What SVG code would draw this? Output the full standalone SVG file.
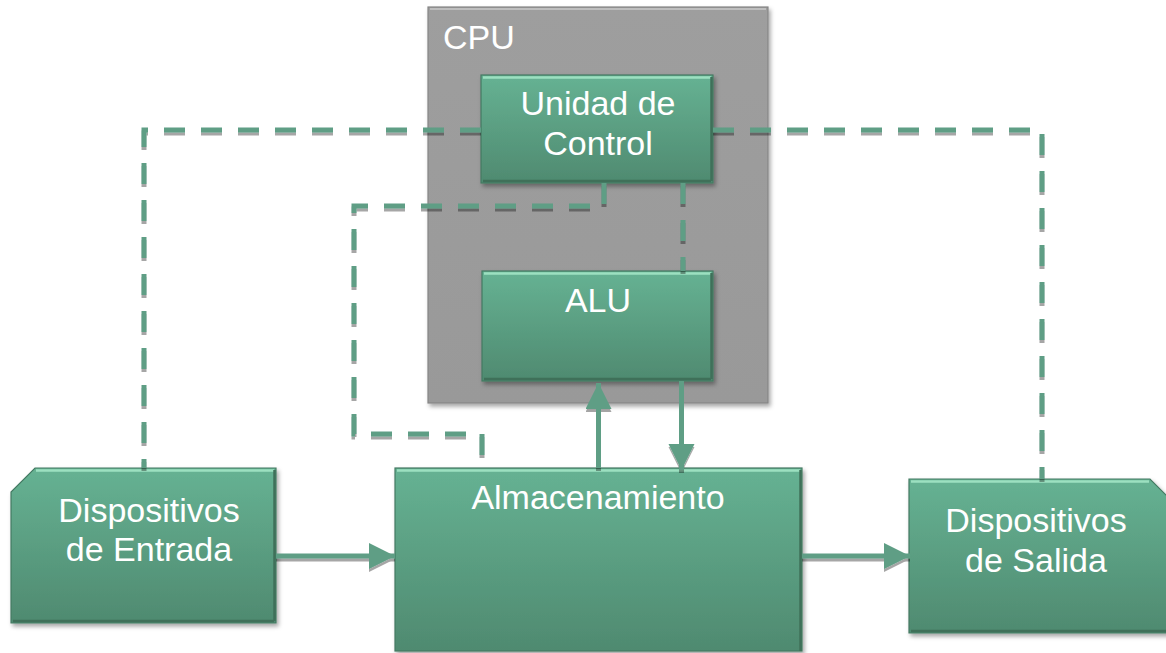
<svg xmlns="http://www.w3.org/2000/svg" width="1166" height="653" viewBox="0 0 1166 653">
  <defs>
    <linearGradient id="gNode" x1="0" y1="0" x2="0" y2="1">
      <stop offset="0" stop-color="#66B293"/>
      <stop offset="1" stop-color="#4F8A70"/>
    </linearGradient>
    <linearGradient id="gCpu" x1="0" y1="0" x2="0" y2="1">
      <stop offset="0" stop-color="#9E9E9E"/>
      <stop offset="1" stop-color="#999999"/>
    </linearGradient>
    <filter id="boxShadow" x="-10%" y="-10%" width="125%" height="125%">
      <feDropShadow dx="2" dy="3" stdDeviation="2" flood-color="#000" flood-opacity="0.35"/>
    </filter>
    <filter id="lineShadow" x="-5%" y="-5%" width="110%" height="110%">
      <feDropShadow dx="0" dy="3" stdDeviation="0.4" flood-color="#000" flood-opacity="0.35"/>
    </filter>
    <marker id="arrow" markerUnits="userSpaceOnUse" markerWidth="27" markerHeight="27" refX="26" refY="13" orient="auto">
      <path d="M0,0 L26,13 L0,26 Z" fill="#5E9E85"/>
    </marker>
  </defs>
  <style>
    .node { fill: url(#gNode); stroke: #447A62; stroke-width: 1.2; filter: url(#boxShadow); }
    .hi { fill: none; stroke: #9CE0C0; stroke-width: 2.5; stroke-linecap: butt; }
    .lo { fill: none; stroke: #3F7059; stroke-width: 2.5; }
    .cpu { fill: url(#gCpu); stroke: #858585; stroke-width: 1.2; filter: url(#boxShadow); }
    .lbl { font-family: "Liberation Sans", Arial, sans-serif; font-size: 34px; fill: #FFFFFF; text-anchor: middle; }
    .dash { fill: none; stroke: #5E9E85; stroke-width: 5; stroke-dasharray: 21 16; }
    .solid { fill: none; stroke: #5E9E85; stroke-width: 5; }
  </style>

  <g id="cpu">
    <rect class="cpu" x="428" y="7" width="340" height="396"/>
    <path d="M430 9 H766" stroke="#BEBEBE" stroke-width="2" fill="none"/>
    <text class="lbl" x="443" y="49" style="text-anchor:start">CPU</text>
  </g>

  <g id="unidad-control">
    <rect class="node" x="481" y="75" width="232" height="108"/>
    <path class="hi" d="M483 77.5 H711"/>
    <path class="lo" d="M483 181 H711 M711.5 77 V181"/>
    <text class="lbl" x="598" y="115">Unidad de</text>
    <text class="lbl" x="598" y="155">Control</text>
  </g>

  <g id="alu">
    <rect class="node" x="482" y="271" width="231" height="110"/>
    <path class="hi" d="M484 273.5 H711"/>
    <path class="lo" d="M484 379 H711 M711.5 273 V379"/>
    <text class="lbl" x="598" y="312">ALU</text>
  </g>

  <g id="almacenamiento">
    <rect class="node" x="395" y="468" width="407" height="183"/>
    <path class="hi" d="M397 470.5 H800"/>
    <path class="lo" d="M800.5 470 V651"/>
    <text class="lbl" x="598" y="509">Almacenamiento</text>
  </g>

  <g id="entrada">
    <polygon class="node" points="35,468 276,468 276,623 11,623 11,492"/>
    <path class="hi" d="M36 470.5 H274"/>
    <path class="lo" d="M13 621 H274 M274.5 470 V621"/>
    <text class="lbl" x="149" y="522">Dispositivos</text>
    <text class="lbl" x="149" y="561">de Entrada</text>
  </g>

  <g id="salida">
    <polygon class="node" points="909,479 1150,479 1174,503 1174,633 909,633"/>
    <path class="hi" d="M911 481.5 H1149"/>
    <path class="lo" d="M911 631 H1166"/>
    <text class="lbl" x="1036" y="532">Dispositivos</text>
    <text class="lbl" x="1036" y="572">de Salida</text>
  </g>

  <g id="connectors" filter="url(#lineShadow)">
    <path class="dash" d="M481 130 H144 V468"/>
    <path class="dash" d="M713 130 H1042 V479"/>
    <path class="dash" d="M604 183 V206 H354 V434 H482 V468"/>
    <path class="dash" d="M683 183 V271"/>
    <path class="solid" d="M598.5 468 V383" marker-end="url(#arrow)"/>
    <path class="solid" d="M681.5 381 V470" marker-end="url(#arrow)"/>
    <path class="solid" d="M276 556 H395" marker-end="url(#arrow)"/>
    <path class="solid" d="M802 556 H910" marker-end="url(#arrow)"/>
  </g>
</svg>
